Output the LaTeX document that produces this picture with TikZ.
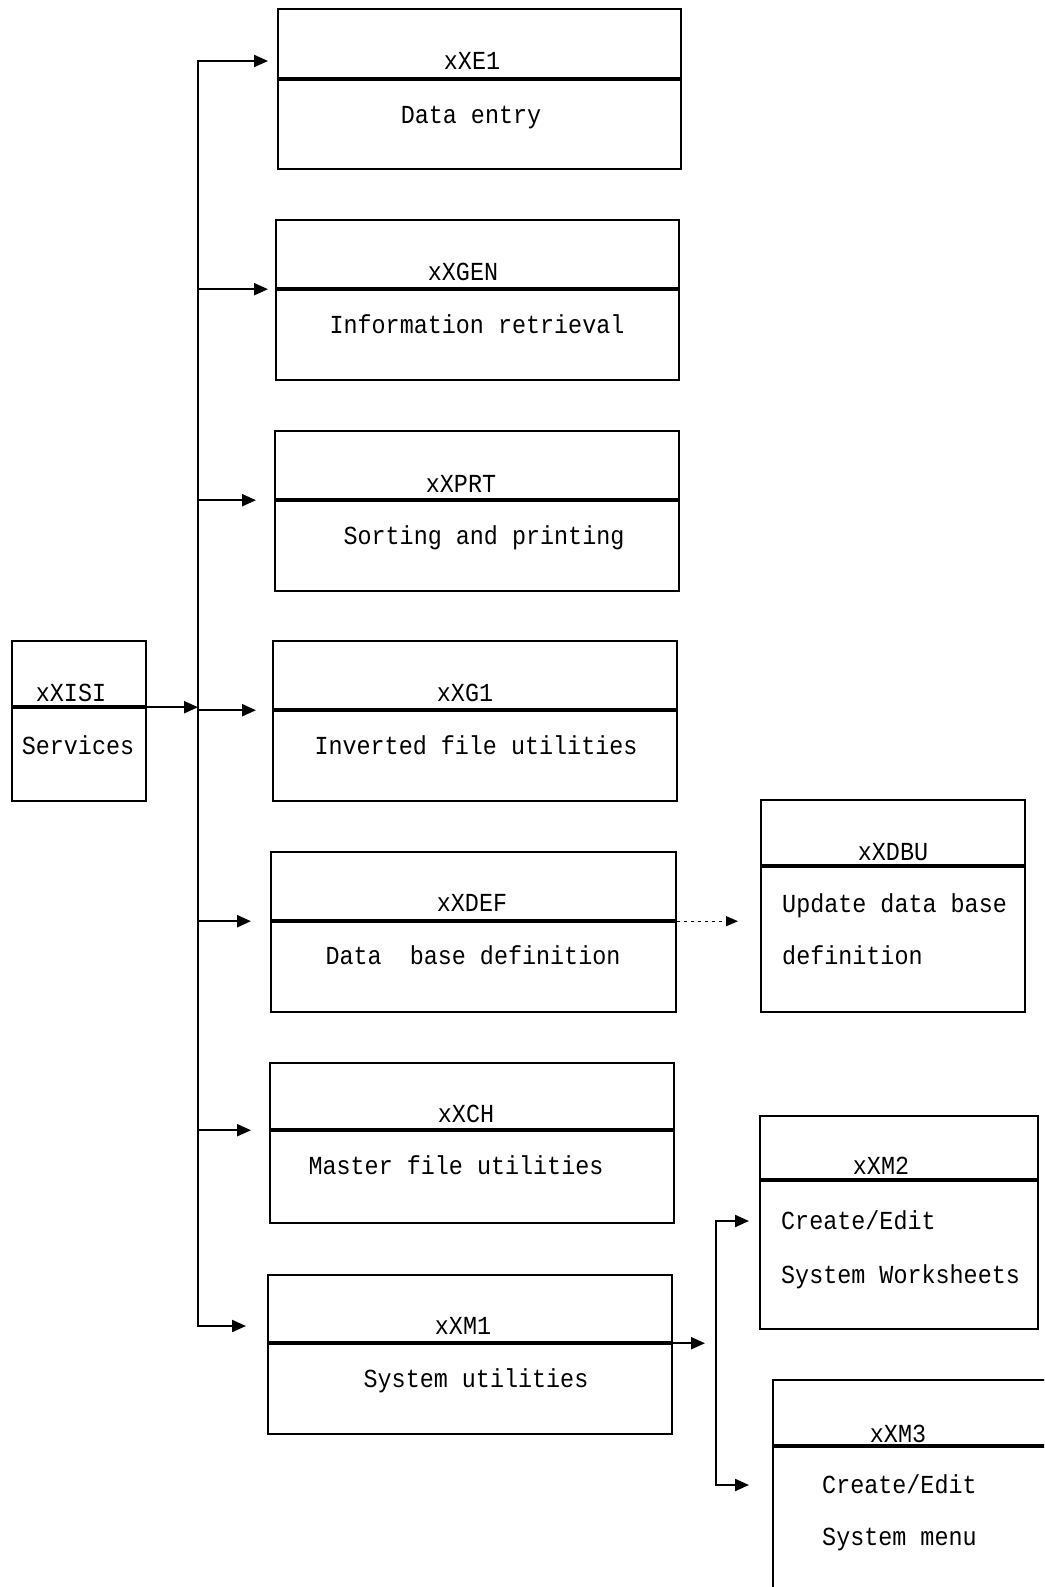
\documentclass[tikz,border=0pt]{standalone}
\usepackage{fontspec}
\newfontfamily\dotfont[FakeStretch=0.9]{Liberation Mono}
\usetikzlibrary{arrows.meta}

\begin{document}
\begin{tikzpicture}[x=1pt,y=-1pt,
    every node/.style={font=\dotfont\fontsize{26}{30}\selectfont},
    part/.style={draw,line width=2.2pt,anchor=north west,inner sep=0pt},
    txt/.style={anchor=base,inner sep=0pt},
    ltxt/.style={anchor=base west,inner sep=0pt},
    arr/.style={line width=2.2pt,-{Triangle[length=14pt,width=12pt]}},
    darr/.style={line width=1.4pt,dash pattern=on 3pt off 4pt,-{Triangle[length=12pt,width=10pt]}}]
            \useasboundingbox (0,0) rectangle (1044,1587);
            \clip (0,0) rectangle (1044,1587);
            \draw (11,640) node[part,minimum width=134pt,minimum height=65pt](isih){};
            \draw (isih.south west) node[part,minimum width=134pt,minimum height=93pt](isi){};
            \draw (71,701) node[txt](isil){xXISI};
            \draw (78,754) node[txt](isit){Services};
            \draw (277,8) node[part,minimum width=403pt,minimum height=69pt](e1h){};
            \draw (e1h.south west) node[part,minimum width=403pt,minimum height=89pt](e1){};
            \draw (472,70) node[txt](e1l){xXE1};
            \draw (471,123) node[txt](e1t){Data entry};
            \draw (275,219) node[part,minimum width=403pt,minimum height=68pt](e2h){};
            \draw (e2h.south west) node[part,minimum width=403pt,minimum height=90pt](e2){};
            \draw (463,280) node[txt](e2l){xXGEN};
            \draw (477,333) node[txt](e2t){Information retrieval};
            \draw (274,430) node[part,minimum width=404pt,minimum height=68pt](e3h){};
            \draw (e3h.south west) node[part,minimum width=404pt,minimum height=90pt](e3){};
            \draw (461,492) node[txt](e3l){xXPRT};
            \draw (484,544) node[txt](e3t){Sorting and printing};
            \draw (272,640) node[part,minimum width=404pt,minimum height=68pt](e4h){};
            \draw (e4h.south west) node[part,minimum width=404pt,minimum height=90pt](e4){};
            \draw (465,701) node[txt](e4l){xXG1};
            \draw (476,754) node[txt](e4t){Inverted file utilities};
            \draw (270,851) node[part,minimum width=405pt,minimum height=68pt](e5h){};
            \draw (e5h.south west) node[part,minimum width=405pt,minimum height=90pt](e5){};
            \draw (472,911) node[txt](e5l){xXDEF};
            \draw (473,964) node[txt](e5t){Data\ \ base definition};
            \draw (269,1062) node[part,minimum width=404pt,minimum height=66pt](e6h){};
            \draw (e6h.south west) node[part,minimum width=404pt,minimum height=92pt](e6){};
            \draw (466,1122) node[txt](e6l){xXCH};
            \draw (456,1174) node[txt](e6t){Master file utilities};
            \draw (267,1274) node[part,minimum width=404pt,minimum height=67pt](e7h){};
            \draw (e7h.south west) node[part,minimum width=404pt,minimum height=90pt](e7){};
            \draw (463,1334) node[txt](e7l){xXM1};
            \draw (476,1387) node[txt](e7t){System utilities};
            \draw (760,799) node[part,minimum width=264pt,minimum height=65pt](dbuh){};
            \draw (dbuh.south west) node[part,minimum width=264pt,minimum height=145pt](dbu){};
            \draw (893,860) node[txt](dbul){xXDBU};
            \draw (782,912) node[ltxt](dbut){Update data base};
            \draw (782,964) node[ltxt](dbuu){definition};
            \draw (759,1115) node[part,minimum width=278pt,minimum height=63pt](m2h){};
            \draw (m2h.south west) node[part,minimum width=278pt,minimum height=148pt](m2){};
            \draw (881,1174) node[txt](m2l){xXM2};
            \draw (781,1229) node[ltxt](m2t){Create/Edit};
            \draw (781,1283) node[ltxt](m2u){System Worksheets};
            \draw (772,1379) node[part,minimum width=300pt,minimum height=65pt](m3h){};
            \draw (m3h.south west) node[part,minimum width=300pt,minimum height=180pt](m3){};
            \draw (898,1442) node[txt](m3l){xXM3};
            \draw (822,1493) node[ltxt](m3t){Create/Edit};
            \draw (822,1545) node[ltxt](m3u){System menu};
            \coordinate (bt) at (198,61);
            \coordinate (bb) at (198,1326);
            \coordinate (mt) at (716,1221);
            \coordinate (mb) at (716,1485);
            \draw[arr] (isih.south east) -- (bt |- isih.south east);
            \draw[arr,shorten >=9pt] (bb) -- (bt) -- (e1h.west |- bt);
            \draw[arr,shorten >=7pt] (bt |- e2h.south) -- (e2h.south west);
            \draw[arr,shorten >=18pt] (bt |- e3h.south) -- (e3h.south west);
            \draw[arr,shorten >=16pt] (bt |- e4h.south) -- (e4h.south west);
            \draw[arr,shorten >=19pt] (bt |- e5h.south) -- (e5h.south west);
            \draw[arr,shorten >=18pt] (bt |- e6h.south) -- (e6h.south west);
            \draw[arr,shorten >=21pt] (bt) -- (bb) -- (e7h.west |- bb);
            \draw[darr,shorten >=22pt] (e5h.south east) -- (dbu.west |- e5h.south);
            \draw[arr,shorten >=11pt] (e7h.south east) -- (mt |- e7h.south);
            \draw[arr,shorten >=10pt] (mb) -- (mt) -- (m2.west |- mt);
            \draw[arr,shorten >=23pt] (mt) -- (mb) -- (m3.west |- mb);
\end{tikzpicture}
\end{document}
